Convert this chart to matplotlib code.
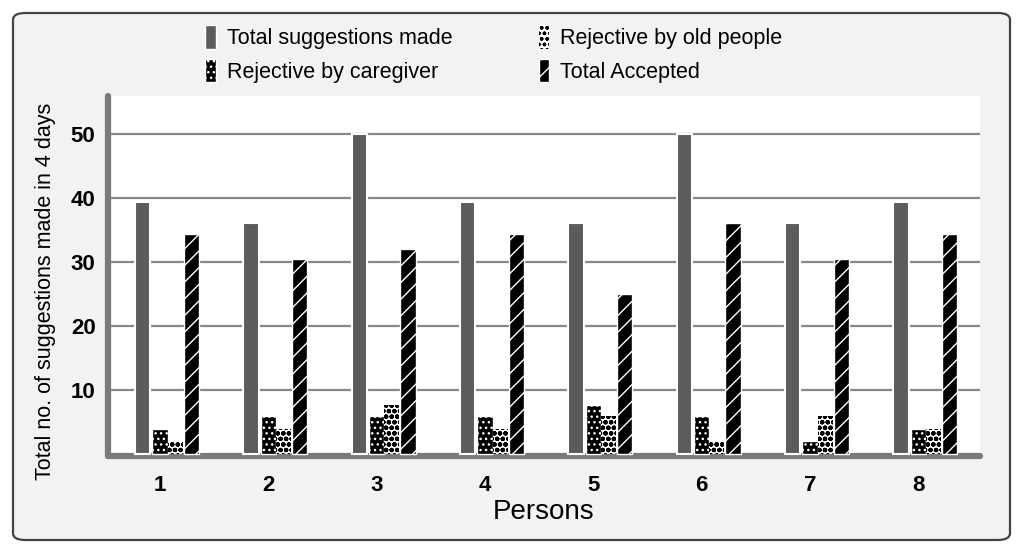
import matplotlib.pyplot as plt
from matplotlib.patches import FancyBboxPatch, Patch
import numpy as np

persons = ['1', '2', '3', '4', '5', '6', '7', '8']
total_made = [39.5, 36.2, 50, 39.5, 36.2, 50, 36.2, 39.5]
rej_caregiver = [4, 6, 6, 6, 7.6, 6, 2, 4]
rej_old = [2, 4, 7.6, 4, 6, 2, 6, 4]
total_accepted = [34.4, 30.5, 32, 34.4, 25, 36.2, 30.5, 34.4]
yticks = [10, 20, 30, 40, 50]

plt.rcParams['font.family'] = ['Liberation Sans', 'DejaVu Sans']
plt.rcParams['hatch.linewidth'] = 1.0

fig = plt.figure(figsize=(10.24, 5.52), dpi=100)
fig.patch.set_facecolor('white')

# grey rounded panel behind everything
panel = FancyBboxPatch((13 / 1024, 12 / 552), 997 / 1024, 527 / 552,
                       boxstyle='round,pad=0,rounding_size=0.012',
                       transform=fig.transFigure, facecolor='#f2f2f2',
                       edgecolor='#444444', linewidth=1.6, zorder=-5)
fig.patches.append(panel)

ax = fig.add_axes([108 / 1024, (552 - 456) / 552, 872 / 1024, 360 / 552])
ax.set_facecolor('white')

x = np.arange(1, 9)
w = 0.14
ax.bar(x - 0.16, total_made, w, color='#5c5c5c', edgecolor='white', linewidth=1.5, zorder=3)
ax.bar(x + 0.0, rej_caregiver, w, color='black', edgecolor='white', hatch='...', linewidth=1.0, zorder=3)
with plt.rc_context({'hatch.linewidth': 1.6}):
    ax.bar(x + 0.14, rej_old, w, color='white', edgecolor='black', hatch='ooo', linewidth=0, zorder=3)
    old_handle = Patch(facecolor='white', edgecolor='black', hatch='ooo', linewidth=0,
                       label='Rejective by old people')
ax.bar(x + 0.29, total_accepted, w, color='black', edgecolor='white', hatch='//', linewidth=1.0, zorder=3)

ax.set_xlim(0.52, 8.57)
ax.set_ylim(-0.3, 56)
ax.set_yticks(yticks)
ax.set_xticks(x)
ax.set_xticklabels(persons, fontsize=16, fontweight='bold')
ax.set_yticklabels([str(v) for v in yticks], fontsize=16, fontweight='bold')
ax.tick_params(axis='y', length=0, pad=9)
ax.tick_params(axis='x', length=0, pad=14)
ax.grid(axis='y', color='#888888', linewidth=1.6, zorder=1)

for side in ['top', 'right']:
    ax.spines[side].set_visible(False)
for side in ['left', 'bottom']:
    ax.spines[side].set_color('#7a7a7a')
    ax.spines[side].set_linewidth(4.5)
    ax.spines[side].set_capstyle('round')

ax.set_xlabel('Persons', fontsize=20, labelpad=2)
ax.set_ylabel('Total no. of suggestions made in 4 days', fontsize=15.5)
ax.yaxis.set_label_coords(-0.06, 0.456)

handles = [
    Patch(facecolor='#5c5c5c', edgecolor='white', label='Total suggestions made'),
    Patch(facecolor='black', edgecolor='white', hatch='...', label='Rejective by caregiver'),
    old_handle,
    Patch(facecolor='black', edgecolor='white', hatch='//', label='Total Accepted'),
]
fig.legend(handles=handles, ncol=2, loc='upper left', bbox_to_anchor=(186 / 1024, 1 - 6 / 552),
           frameon=False, fontsize=15.5, handlelength=0.5, handleheight=1.3,
           handletextpad=0.5, columnspacing=4.0, labelspacing=0.45)

fig.savefig('out.png', dpi=100)
